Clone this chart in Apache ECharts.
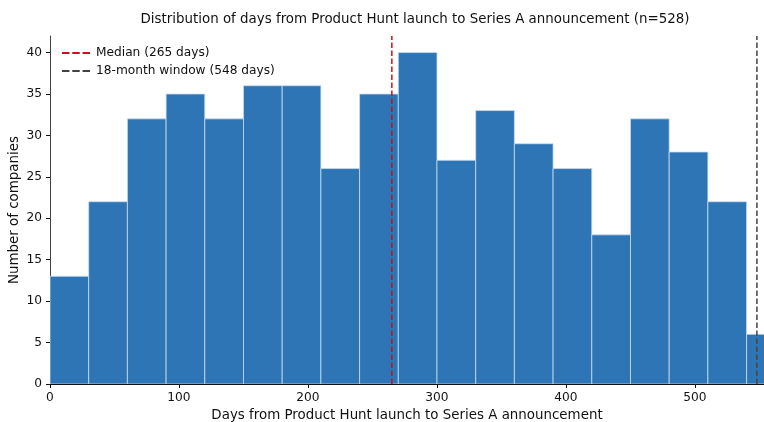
<!DOCTYPE html>
<html>
<head>
<meta charset="utf-8">
<script src="https://cdn.jsdelivr.net/npm/echarts@6/dist/echarts.min.js"></script>
<style>
  html, body { margin: 0; padding: 0; background: #fff; }
  #root { width: 764px; height: 422px; }
</style>
</head>
<body>
<div id="root"></div>
<script>
// 直方图的分箱（每箱 30 天）
var binStarts = [0, 30, 60, 90, 120, 150, 180, 210, 240, 270, 300, 330, 360, 390, 420, 450, 480, 510, 540];
var binWidth = 30;
// 每箱公司数量
var counts = [13, 22, 32, 35, 32, 36, 36, 26, 35, 40, 27, 33, 29, 26, 18, 32, 28, 22, 6];
// 参考线
var medianDays = 265;
var windowDays = 548;

var fontFamily = 'DejaVu Sans';
// 图例用的虚线图标
var dashIcon = 'path://M0,0h8v2h-8z M11,0h8v2h-8z M22,0h8v2h-8z';

var histData = binStarts.map(function(start, i) {
  return [start, start + binWidth, counts[i]];
});

var option = {
  animation: false,
  title: {
    text: 'Distribution of days from Product Hunt launch to Series A announcement (n=528)',
    left: 410,
    textAlign: 'center',
    top: 8,
    textStyle: { fontFamily: fontFamily, fontSize: 13.4, fontWeight: 'normal', color: '#111' }
  },
  legend: {
    orient: 'vertical',
    left: 57,
    top: 42,
    itemWidth: 28,
    itemHeight: 2,
    itemGap: 6,
    textStyle: { fontFamily: fontFamily, fontSize: 12.2, color: '#111', padding: [0, 0, 0, 1] },
    data: [
      { name: 'Median (265 days)', icon: dashIcon },
      { name: '18-month window (548 days)', icon: dashIcon }
    ]
  },
  grid: { left: 50, right: 0, top: 36, bottom: 38, outerBoundsMode: 'none', containLabel: false },
  xAxis: {
    type: 'value',
    min: 0,
    max: 553.5,
    interval: 100,
    name: 'Days from Product Hunt launch to Series A announcement',
    nameLocation: 'middle',
    nameGap: 24,
    nameTextStyle: { fontFamily: fontFamily, fontSize: 13.4, color: '#111' },
    axisLine: { lineStyle: { color: '#111', width: 1 } },
    axisTick: { show: true, length: 4, lineStyle: { color: '#111' } },
    axisLabel: { showMaxLabel: false, fontFamily: fontFamily, fontSize: 12.2, color: '#111', margin: 8 },
    splitLine: { show: false }
  },
  yAxis: {
    type: 'value',
    min: 0,
    max: 42,
    interval: 5,
    name: 'Number of companies',
    nameLocation: 'middle',
    nameGap: 29,
    nameMoveOverlap: false,
    nameTextStyle: { fontFamily: fontFamily, fontSize: 13.4, color: '#111' },
    axisLine: { show: true, lineStyle: { color: '#444', width: 1 } },
    axisTick: { show: true, length: 4, lineStyle: { color: '#111' } },
    axisLabel: { showMaxLabel: false, fontFamily: fontFamily, fontSize: 12.2, color: '#111', margin: 8 },
    splitLine: { show: false }
  },
  series: [
    {
      name: 'hist',
      type: 'custom',
      clip: true,
      data: histData,
      encode: { x: [0, 1], y: 2 },
      renderItem: function(params, api) {
        var p0 = api.coord([api.value(0), 0]);
        var p1 = api.coord([api.value(1), api.value(2)]);
        return {
          type: 'rect',
          shape: { x: p0[0], y: p1[1], width: p1[0] - p0[0], height: p0[1] - p1[1] },
          style: { fill: '#2e75b6', stroke: '#c9dcee', lineWidth: 0.8 }
        };
      }
    },
    {
      name: 'Median (265 days)',
      type: 'line',
      showSymbol: false,
      symbol: 'none',
      color: '#c8101e',
      lineStyle: { color: '#c8101e', type: [5.5, 2.5], width: 1.5 },
      data: [[medianDays, 0], [medianDays, 42]],
      z: 5
    },
    {
      name: '18-month window (548 days)',
      type: 'line',
      showSymbol: false,
      symbol: 'none',
      color: '#444',
      lineStyle: { color: '#444', type: [5.5, 2.5], width: 1.5 },
      data: [[windowDays, 0], [windowDays, 42]],
      z: 5
    }
  ]
};

var myChart = echarts.init(document.getElementById('root'));
myChart.setOption(option);
</script>
</body>
</html>
